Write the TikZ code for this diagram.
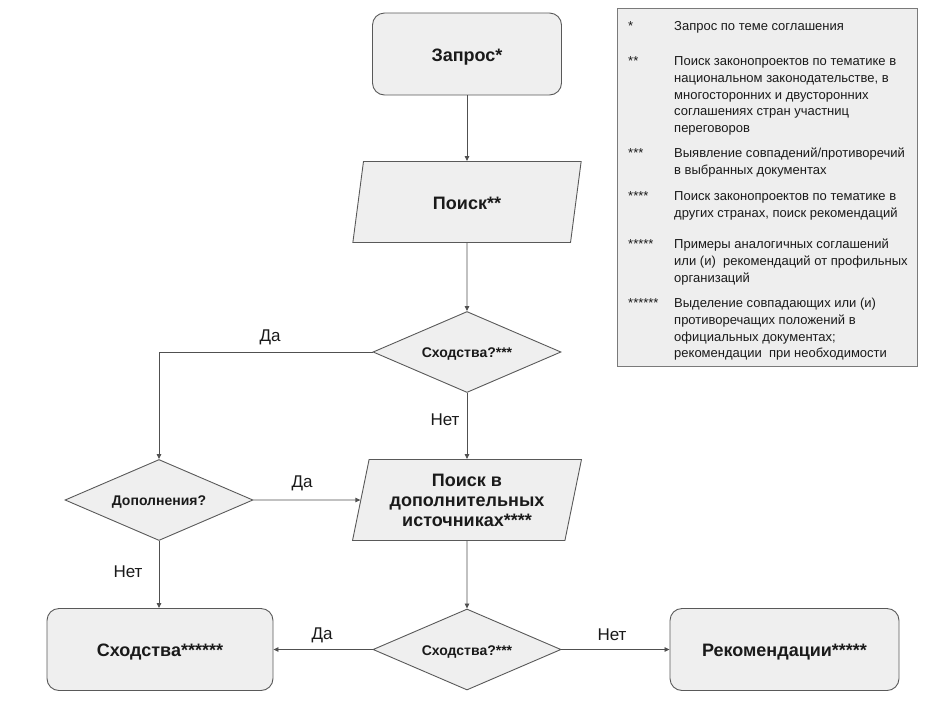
\documentclass[tikz,border=0pt]{standalone}
\usepackage{fontspec}
\setmainfont{Liberation Sans}
\usetikzlibrary{shapes.geometric,arrows.meta}
\definecolor{boxfill}{HTML}{EFEFEF}
\definecolor{boxline}{HTML}{595959}
\definecolor{arrowc}{HTML}{505050}
\definecolor{legfill}{HTML}{EEEEEE}
\definecolor{legline}{HTML}{7A7A7A}
\definecolor{txt}{HTML}{1A1A1A}
\begin{document}
\begin{tikzpicture}[x=1pt,y=-1pt,
  every node/.style={text=txt},
  oneline/.style={text height=14pt, text depth=0pt},
  term/.style={draw=boxline, fill=boxfill, rounded corners=12pt, line width=0.9pt,
    minimum height=82pt, inner sep=0pt, oneline, font=\fontsize{18}{20}\selectfont\bfseries},
  io/.style={trapezium, trapezium left angle=76, trapezium right angle=104,
    trapezium stretches=true, draw=boxline, fill=boxfill, line width=0.9pt,
    minimum width=229pt, minimum height=81pt, inner sep=0pt, align=center,
    font=\fontsize{18}{20}\selectfont\bfseries},
  decision/.style={diamond, aspect=2.3, draw=boxline, fill=boxfill, line width=0.9pt,
    minimum width=188pt, minimum height=81pt, inner sep=0pt,
    text height=11pt, text depth=0pt,
    font=\fontsize{14}{16}\selectfont\bfseries},
  arr/.style={draw=arrowc, line width=0.8pt, -{Triangle[length=5pt,width=4.5pt]}},
  lab/.style={inner sep=0pt, font=\fontsize{17}{19}\selectfont},
  legtext/.style={anchor=base west, inner sep=0pt, font=\fontsize{13}{16}\selectfont},
]
\useasboundingbox (0,0) rectangle (929,724);

% legend
\node[draw=legline, fill=legfill, line width=0.9pt, minimum width=300pt,
  minimum height=358pt, inner sep=0pt, anchor=north west] (leg) at (617,8) {};
\node[legtext] (s1) at (628,30.5) {*};
\node[legtext] (t1) at (674,30.5) {Запрос по теме соглашения};
\node[legtext] (s2) at (628,65.5) {**};
\node[legtext] (t2a) at (674,65.5) {Поиск законопроектов по тематике в};
\node[legtext] (t2b) at (674,82.2) {национальном законодательстве, в};
\node[legtext] (t2c) at (674,99) {многосторонних и двусторонних};
\node[legtext] (t2d) at (674,115.7) {соглашениях стран участниц};
\node[legtext] (t2e) at (674,132.4) {переговоров};
\node[legtext] (s3) at (628,157.5) {***};
\node[legtext] (t3a) at (674,157.5) {Выявление совпадений/противоречий};
\node[legtext] (t3b) at (674,174.2) {в выбранных документах};
\node[legtext] (s4) at (628,200.5) {****};
\node[legtext] (t4a) at (674,200.5) {Поиск законопроектов по тематике в};
\node[legtext] (t4b) at (674,217.2) {других странах, поиск рекомендаций};
\node[legtext] (s5) at (628,248.5) {*****};
\node[legtext] (t5a) at (674,248.5) {Примеры аналогичных соглашений};
\node[legtext] (t5b) at (674,265.2) {или (и) \ рекомендаций от профильных};
\node[legtext] (t5c) at (674,282) {организаций};
\node[legtext] (s6) at (628,307.5) {******};
\node[legtext] (t6a) at (674,307.5) {Выделение совпадающих или (и)};
\node[legtext] (t6b) at (674,324.2) {противоречащих положений в};
\node[legtext] (t6c) at (674,341) {официальных документах;};
\node[legtext] (t6d) at (674,357.7) {рекомендации \ при необходимости};

% flowchart nodes
\node[term, minimum width=189pt] (zap) at (467,54) {Запрос*};
\node[io, oneline] (poisk) at (467,202) {Поиск**};
\node[decision] (d1) at (467,352) {Сходства?***};
\node[io] (pd) at (467,500) {Поиск в\\дополнительных\\источниках****};
\node[decision] (dop) at (159,500) {Дополнения?};
\node[term, minimum width=226pt] (sh) at (160,649.5) {Сходства******};
\node[decision] (d2) at (467,649.5) {Сходства?***};
\node[term, minimum width=229pt] (rec) at (784.5,649.5) {Рекомендации*****};

% connectors
\draw[arr] (zap) -- (poisk);
\draw[arr] (poisk) -- (d1);
\draw[arr] (d1.west) -| (dop.north);
\draw[arr] (d1) -- (pd);
\draw[arr] (dop) -- (pd);
\draw[arr] (dop.south) -- (dop.south |- sh.north);
\draw[arr] (pd) -- (d2);
\draw[arr] (d2) -- (sh);
\draw[arr] (d2) -- (rec);

% labels
\node[lab] (yes1) at (270,337) {Да};
\node[lab] (no1) at (445,420) {Нет};
\node[lab] (yes2) at (302,483) {Да};
\node[lab] (no2) at (128,572) {Нет};
\node[lab] (yes3) at (322,635) {Да};
\node[lab] (no3) at (612,635) {Нет};
\end{tikzpicture}
\end{document}
